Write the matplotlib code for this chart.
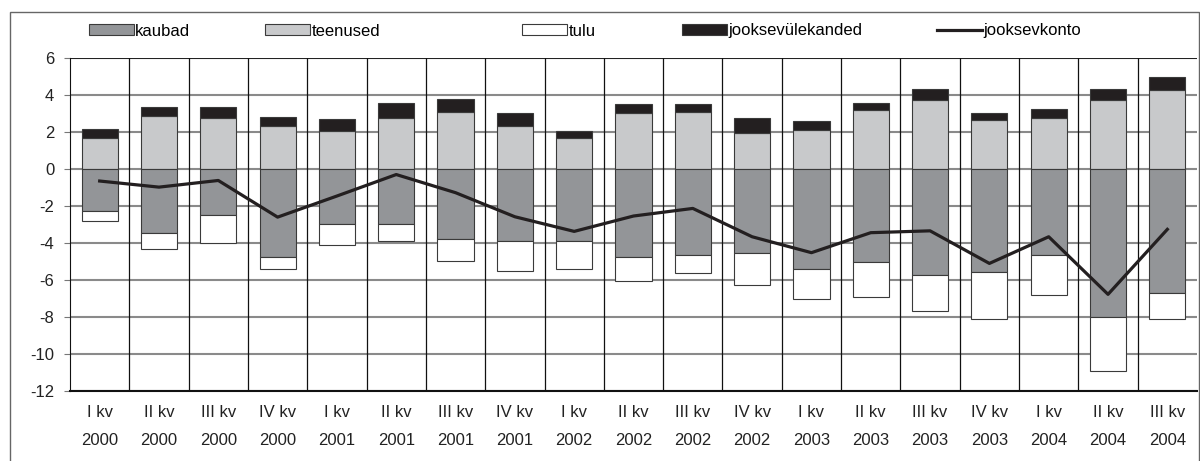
import numpy as np
import matplotlib
matplotlib.use("Agg")
import matplotlib.pyplot as plt
from matplotlib.patches import Patch, Rectangle
from matplotlib.lines import Line2D

plt.rcParams['font.family'] = ['Liberation Sans', 'DejaVu Sans']
plt.rcParams['axes.unicode_minus'] = False

# andmed (kvartalid 2000 I - 2004 III)
quarters = ["I kv", "II kv", "III kv", "IV kv", "I kv", "II kv", "III kv", "IV kv",
            "I kv", "II kv", "III kv", "IV kv", "I kv", "II kv", "III kv", "IV kv",
            "I kv", "II kv", "III kv"]
years = ["2000", "2000", "2000", "2000", "2001", "2001", "2001", "2001",
         "2002", "2002", "2002", "2002", "2003", "2003", "2003", "2003",
         "2004", "2004", "2004"]

kaubad = [-2.28, -3.45, -2.50, -4.75, -3.00, -3.00, -3.78, -3.90, -3.90, -4.75,
          -4.63, -4.53, -5.40, -5.06, -5.72, -5.60, -4.66, -7.99, -6.69]
teenused = [1.68, 2.86, 2.76, 2.33, 2.04, 2.76, 3.08, 2.33, 1.68, 2.99,
            3.08, 1.91, 2.11, 3.19, 3.73, 2.65, 2.76, 3.73, 4.27]
tulu = [-0.55, -0.89, -1.51, -0.67, -1.12, -0.90, -1.20, -1.62, -1.52, -1.31,
        -1.00, -1.75, -1.64, -1.89, -1.96, -2.52, -2.16, -2.93, -1.41]
ylekanded = [0.46, 0.47, 0.57, 0.46, 0.64, 0.80, 0.70, 0.69, 0.37, 0.49,
             0.40, 0.81, 0.47, 0.36, 0.57, 0.37, 0.48, 0.57, 0.70]
jooksevkonto = [-0.66, -0.99, -0.63, -2.61, -1.47, -0.31, -1.29, -2.59, -3.38, -2.55,
                -2.14, -3.67, -4.53, -3.45, -3.35, -5.11, -3.67, -6.78, -3.27]

c_kaub = "#939598"
c_teen = "#c8c9cb"
c_tulu = "#ffffff"
c_yle = "#231f20"
edge = "#3a3a3a"

fig = plt.figure(figsize=(12, 4.61), dpi=100)
ax = fig.add_axes([70 / 1200, 1 - 391 / 461, 1127 / 1200, 333.3 / 461])

x = np.arange(len(quarters))
w = 0.61

# joonestik
for yv in range(-12, 6, 2):
    ax.axhline(yv, color="#8a8a8a", lw=1.5, zorder=0)
ax.axhline(6, color="#222222", lw=1.5, zorder=0)
for xv in x[:-1] + 0.5:
    ax.axvline(xv, color="#111111", lw=0.9, zorder=0)

ax.bar(x, teenused, w, color=c_teen, edgecolor=edge, lw=0.8, zorder=2)
ax.bar(x, ylekanded, w, bottom=teenused, color=c_yle, edgecolor=edge, lw=0.8, zorder=2)
ax.bar(x, kaubad, w, color=c_kaub, edgecolor=edge, lw=0.8, zorder=2)
ax.bar(x, tulu, w, bottom=kaubad, color=c_tulu, edgecolor=edge, lw=0.8, zorder=2)
ax.plot(x, jooksevkonto, color=c_yle, lw=2.3, zorder=3)

ax.set_xlim(-0.5, len(quarters) - 0.5)
ax.set_ylim(-12, 6)
ax.set_yticks(np.arange(-12, 7, 2))
ax.tick_params(axis="y", labelsize=12, length=4.3, pad=7, color="#777777",
               labelcolor="#222222")
ax.set_xticks(x)
ax.set_xticklabels([q + "\n" + y for q, y in zip(quarters, years)],
                   fontsize=12, linespacing=2.1, color="#222222")
ax.tick_params(axis="x", length=0, pad=10)

for s in ["top", "right"]:
    ax.spines[s].set_visible(False)
ax.spines["left"].set_color("#111111")
ax.spines["bottom"].set_color("#111111")
ax.spines["bottom"].set_linewidth(1.5)

# legend, iga kirje eraldi
items = [
    (Patch(facecolor=c_kaub, edgecolor=edge, lw=0.8), "kaubad", 89),
    (Patch(facecolor=c_teen, edgecolor=edge, lw=0.8), "teenused", 265),
    (Patch(facecolor=c_tulu, edgecolor=edge, lw=0.8), "tulu", 522),
    (Patch(facecolor=c_yle, edgecolor=edge, lw=0.8), "jooksevülekanded", 682),
    (Line2D([0], [0], color=c_yle, lw=2.3), "jooksevkonto", 937),
]
for h, lab, px in items:
    fig.legend([h], [lab], loc="center left", bbox_to_anchor=(px / 1200, 1 - 31 / 461),
               frameon=False, fontsize=12, handlelength=2.7, handleheight=0.65,
               handletextpad=0.08, borderpad=0, borderaxespad=0)

fig.patches.append(Rectangle((10 / 1200, -0.02), 1188.5 / 1200, 1.02 - 12 / 461,
                             transform=fig.transFigure, fill=False,
                             edgecolor="#666666", lw=1.0))

fig.savefig("out.png", dpi=100)
